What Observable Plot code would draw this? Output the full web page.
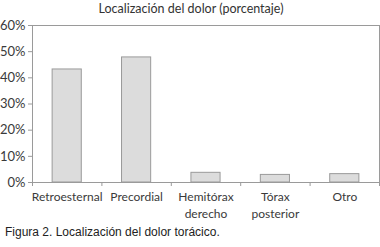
<!DOCTYPE html>
<html><head><meta charset="utf-8">
<script src="https://cdn.jsdelivr.net/npm/d3@7"></script>
<script src="https://cdn.jsdelivr.net/npm/@observablehq/plot@0.6"></script>
<style>
body{margin:0;background:#fff;}
#wrap{width:380px;height:247px;position:relative;overflow:hidden;background:#fff;}
#title{position:absolute;top:0;left:0;width:382px;text-align:center;font:12.5px Lato, sans-serif;color:#333;line-height:17px;}
#chart{position:absolute;top:18px;left:0;}
#cap{position:absolute;top:224px;left:5px;font:12px "Liberation Sans", Arial, sans-serif;color:#222;line-height:16px;}
</style></head><body>
<div id="wrap">
<div id="title">Localización del dolor (porcentaje)</div>
<div id="chart"></div>
<div id="cap">Figura 2. Localización del dolor torácico.</div>
</div>
<script>
const categories = ["Retroesternal", "Precordial", "Hemitórax\nderecho", "Tórax\nposterior", "Otro"];
const values = [43.2, 47.8, 3.7, 2.9, 3.2];
const yTicks = [0, 10, 20, 30, 40, 50, 60];

const data = categories.map((c, i) => ({c, i, v: values[i]}));
const boundaries = d3.range(0, categories.length + 1);

const chart = Plot.plot({
  width: 380, height: 205,
  marginTop: 7, marginBottom: 41, marginLeft: 32, marginRight: 1,
  style: {fontFamily: "Lato, sans-serif", fontSize: "12px", color: "#3a3a3a", background: "transparent"},
  x: {domain: [0, categories.length], axis: null},
  y: {domain: [0, 60], axis: null},
  marks: [
    Plot.rectY(data, {x1: d => d.i + 0.29, x2: d => d.i + 0.71, y1: 0, y2: "v", fill: "#dcdcdc", stroke: "#9a9a9a", strokeWidth: 1}),
    Plot.frame({stroke: "#9a9a9a"}),
    Plot.axisY({ticks: yTicks, tickFormat: d => d + "%", tickSize: 4, tickPadding: 3, stroke: "#9a9a9a", fill: "#3a3a3a", label: null, fontSize: 13}),
    Plot.axisX({ticks: boundaries, tickFormat: () => "", tickSize: 4, stroke: "#9a9a9a", label: null}),
    Plot.text(data, {x: d => d.i + 0.5, frameAnchor: "bottom", dy: 7, lineAnchor: "top", lineHeight: 1.4, text: "c", fill: "#3a3a3a"})
  ]
});
document.getElementById("chart").appendChild(chart);
</script>
</body></html>
